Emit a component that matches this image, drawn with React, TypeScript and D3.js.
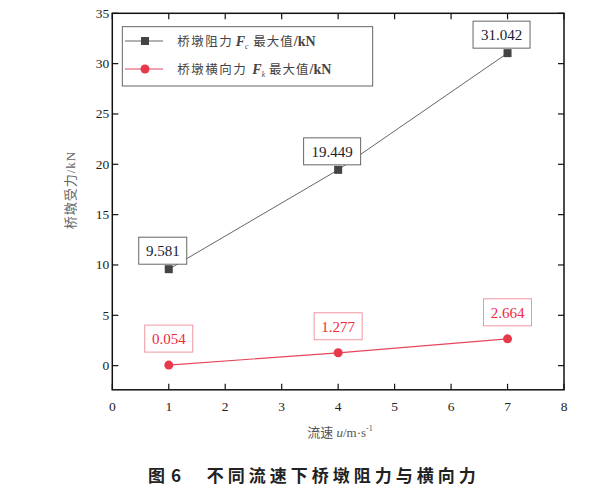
import * as d3 from 'd3';

const speeds = [1, 4, 7];
const dragForce = [9.581, 19.449, 31.042];
const lateralForce = [0.054, 1.277, 2.664];
const dragLabels = ['9.581', '19.449', '31.042'];
const lateralLabels = ['0.054', '1.277', '2.664'];
const xTicks = [0, 1, 2, 3, 4, 5, 6, 7, 8];
const yTicks = [0, 5, 10, 15, 20, 25, 30, 35];

const SERIF = '"Liberation Serif", "Times New Roman", "Noto Sans CJK SC", serif';
const CJK = '"Noto Sans CJK SC", "Liberation Serif", sans-serif';

export default function App() {
  const W = 613;
  const H = 498;
  const left = 112.3;
  const right = 564;
  const top = 13.3;
  const bottom = 389.8;

  const x = d3.scaleLinear().domain([0, 8]).range([left, right]);
  const y = d3.scaleLinear().domain([-2.4, 35]).range([bottom, top]);

  const drag = speeds.map((s, i) => ({ s, v: dragForce[i], label: dragLabels[i] }));
  const lateral = speeds.map((s, i) => ({ s, v: lateralForce[i], label: lateralLabels[i] }));

  const line = d3
    .line<{ s: number; v: number }>()
    .x((d) => x(d.s))
    .y((d) => y(d.v));

  const tickLen = 6;

  return (
    <svg
      width={W}
      height={H}
      style={{ position: 'absolute', left: 0, top: 0, background: '#fff' }}
    >
      {/* frame */}
      <rect
        x={left}
        y={top}
        width={right - left}
        height={bottom - top}
        fill="none"
        stroke="#111"
        strokeWidth={1.5}
      />

      {/* x ticks, mirrored top and bottom */}
      {xTicks.map((t) => (
        <g key={'x' + t}>
          <line x1={x(t)} x2={x(t)} y1={bottom} y2={bottom - tickLen} stroke="#111" strokeWidth={1.2} />
          <line x1={x(t)} x2={x(t)} y1={top} y2={top + tickLen} stroke="#111" strokeWidth={1.2} />
          <text
            x={x(t)}
            y={bottom + 21}
            textAnchor="middle"
            fontFamily={SERIF}
            fontSize={13.5}
            fill="#222"
          >
            {t}
          </text>
        </g>
      ))}

      {/* y ticks, mirrored left and right */}
      {yTicks.map((t) => (
        <g key={'y' + t}>
          <line x1={left} x2={left + tickLen} y1={y(t)} y2={y(t)} stroke="#111" strokeWidth={1.2} />
          <line x1={right} x2={right - tickLen} y1={y(t)} y2={y(t)} stroke="#111" strokeWidth={1.2} />
          <text
            x={left - 3}
            y={y(t) + 4.5}
            textAnchor="end"
            fontFamily={SERIF}
            fontSize={13.5}
            fill="#222"
          >
            {t}
          </text>
        </g>
      ))}

      {/* axis titles */}
      <text
        transform={`translate(75,190) rotate(-90)`}
        textAnchor="middle"
        fontFamily={SERIF}
        fontSize={13}
        fill="#666"
        letterSpacing={1}
      >
        桥墩受力/kN
      </text>
      <text x={340} y={437} textAnchor="middle" fontFamily={SERIF} fontSize={13} fill="#555">
        流速{' '}
        <tspan fontStyle="italic">u</tspan>/m·s
        <tspan fontSize={8} dy={-6}>
          -1
        </tspan>
      </text>

      {/* series lines */}
      <path d={line(drag) ?? ''} fill="none" stroke="#666" strokeWidth={1} />
      <path d={line(lateral) ?? ''} fill="none" stroke="#e8455a" strokeWidth={1.2} />

      {/* drag markers + labels */}
      {drag.map((d) => {
        const w = d.label.length * 9 + 3;
        const cx = x(d.s) - 6;
        const bTop = y(d.v) - 32;
        return (
          <g key={'d' + d.s}>
            <rect
              x={cx - w / 2}
              y={bTop}
              width={w}
              height={27}
              fill="#fff"
              stroke="#555"
              strokeWidth={0.9}
            />
            <text
              x={cx}
              y={bTop + 19}
              textAnchor="middle"
              fontFamily={SERIF}
              fontSize={15}
              fill="#1c1c30"
            >
              {d.label}
            </text>
            <rect x={x(d.s) - 4} y={y(d.v) - 4} width={8} height={8} fill="#444" />
          </g>
        );
      })}

      {/* lateral markers + labels */}
      {lateral.map((d) => {
        const w = d.label.length * 9 + 3;
        const cx = x(d.s);
        const bTop = y(d.v) - 40;
        return (
          <g key={'l' + d.s}>
            <rect
              x={cx - w / 2}
              y={bTop}
              width={w}
              height={27}
              fill="#fff"
              stroke="#f08a96"
              strokeWidth={0.9}
            />
            <text
              x={cx}
              y={bTop + 19}
              textAnchor="middle"
              fontFamily={SERIF}
              fontSize={15}
              fill="#f0283c"
            >
              {d.label}
            </text>
            <circle cx={x(d.s)} cy={y(d.v)} r={4.5} fill="#e8384c" />
          </g>
        );
      })}

      {/* legend */}
      <rect x={122.3} y={26.7} width={250.4} height={59.3} fill="#fff" stroke="#555" strokeWidth={0.9} />
      <line x1={125} x2={163} y1={41} y2={41} stroke="#666" strokeWidth={1} />
      <rect x={141} y={37} width={8} height={8} fill="#444" />
      <text y={46} fontFamily={SERIF} fontSize={12.5} fill="#444">
        <tspan x={177.3} letterSpacing={1.5}>桥墩阻力</tspan>
        <tspan x={235.7} fontStyle="italic" fontWeight="bold" fontSize={14}>F</tspan>
        <tspan fontStyle="italic" fontSize={7.5} dy={3}>c</tspan>
        <tspan x={253.3} dy={-3} letterSpacing={1}>最大值</tspan>
        <tspan fontWeight="bold" fontSize={14}>/kN</tspan>
      </text>
      <line x1={125} x2={163} y1={69} y2={69} stroke="#e8455a" strokeWidth={1.2} />
      <circle cx={145} cy={69} r={4.5} fill="#e8384c" />
      <text y={74} fontFamily={SERIF} fontSize={12.5} fill="#444">
        <tspan x={177.3} letterSpacing={1.5}>桥墩横向力</tspan>
        <tspan x={252.3} fontStyle="italic" fontWeight="bold" fontSize={14}>F</tspan>
        <tspan fontStyle="italic" fontSize={7.5} dy={3}>k</tspan>
        <tspan x={269} dy={-3} letterSpacing={1}>最大值</tspan>
        <tspan fontWeight="bold" fontSize={14}>/kN</tspan>
      </text>

      {/* caption */}
      <text x={148} y={482} fontFamily={CJK} fontSize={17} fontWeight="bold" fill="#222">
        <tspan>图</tspan>
        <tspan x={171}>6</tspan>
        <tspan x={206.7} letterSpacing={4}>
          不同流速下桥墩阻力与横向力
        </tspan>
      </text>
    </svg>
  );
}
